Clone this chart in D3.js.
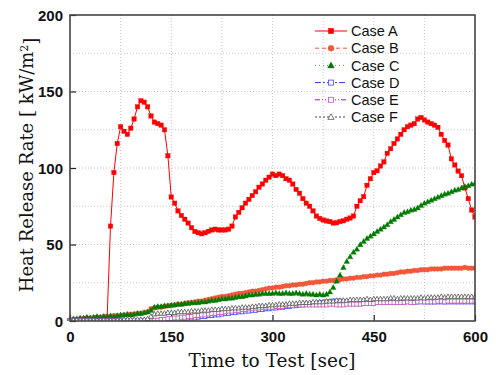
<!DOCTYPE html>
<html>
<head>
<meta charset="utf-8">
<script src="https://cdn.jsdelivr.net/npm/d3@7"></script>
<style>
  body { margin: 0; background: #fff; }
  svg { display: block; }
</style>
</head>
<body>
<div id="chart"></div>
<script>
// time axis, one sample every 5 sec (0..600)
const timeStep = 5;
const xTicks = [0, 150, 300, 450, 600];
const yTicks = [0, 50, 100, 150, 200];
const caseNames = ["Case A", "Case B", "Case C", "Case D", "Case E", "Case F"];

const caseA = [0,0.5,1,1,1,1.5,1.5,1.5,2,2,2,2,
  62,97,116,127,124,122,126,132,140,144,143,140,
  134,130,129,128,125,108,81,77,72,69,66.5,64,
  61,58.5,57.7,57,57.7,58.6,59.5,60,59.5,59.5,59.5,60,
  62,68,71,74,77,79.5,82,84.5,87.4,89.5,92,94,
  96,95,96,95,93,92,89.5,86,83.5,80,77,75,
  72,68.6,67,66,65.4,65,64,64.2,65,65.5,66.5,67.3,
  68.6,75,78.6,81.3,88.7,93,97,98.2,101.3,104,109.6,112.6,
  116,119,122,125,127,128,129,132,133,131.4,130,129,
  128,126.6,122,118,115,106,102,98,95,87,80,72.5,
  68];
const caseB = [0.5,1,1,1.5,1.5,2,2,2,2.5,2.5,3,3,
  3,3.5,3.5,3.5,4,4,4.5,4.5,5,5,5.5,6,
  8,8.5,9,9,9.5,10,10,10.5,11,11,11.5,12,
  12,12.5,13,13,13.5,14,14.5,15,15.5,16,16,16.5,
  17,17.5,18,18,18.5,19,19.5,19.5,20,20.5,21,21.5,
  21.5,22,22,22.5,23,23,23.5,23.5,24,24,24.5,25,
  25,25.5,25.5,26,26,26.5,26.5,27,27,27.5,27.5,28,
  28,28.5,28.5,29,29,29.5,29.5,30,30,30.5,30.5,31,
  31,31.5,32,32,32.5,32.5,33,33,33.5,33.5,33.5,34,
  34,34,34,34.5,34.5,34.5,34.5,34.5,34.5,35,34.5,34.5,
  34.5];
const caseC = [1,1.5,1.5,2,2,2.5,2,2.5,3,2.5,3,3,
  3.5,3,3.5,4,4,4.5,4,4.5,5,5,5.5,6,
  7,9,9.5,9.5,10,10,10.5,10.5,11,11,11.5,11.5,
  12,12,12,12.5,12.5,13,13.5,13.5,14,14.5,14.5,15,
  15,15.5,16,16,16.5,17,17,17.5,17.5,18,18,18,
  18,18.5,18,18,18.5,18,18,18.5,18,17.5,18,17.5,
  17.5,17,17.5,17,17.5,19,22,26,30,35,39,42,
  45,47,50,52,54,55.5,57,58.5,60,61.5,63,65,
  66.5,68,69.5,71,71.5,72.5,73,74,75.5,77,78,79,
  80,81,82,83,83.5,84.5,85.5,86,87,88,88.5,89.5,
  90];
const caseD = [0,0,0,0,0,0,0,0,0,0,0,0,
  0,0,0,0,0,0,0,0,0,0,0,0,
  0,0,0,0.5,0.5,0.5,1,1,1,1.5,1.5,2,
  2,2,2.5,3,3,3.5,3.5,4,4,4.5,5,5,
  5.5,5.5,6,6,6.5,6.5,7,7,7.5,7.5,8,8,
  8.5,8.5,9,9,9.5,9.5,10,10,10.5,10.5,11,11,
  11.5,11.5,12,12,12.5,12.5,13,13,13,12.5,12.5,12.5,
  12.5,12.5,12.5,13,12.5,12.5,12.5,13,13,13,12.5,13,
  13,13,12.5,13,13,13,12.5,12.5,13,12.5,12.5,12.5,
  12.5,12.5,12.5,12.5,12.5,12.5,12.5,12.5,12.5,12.5,12.5,12.5,
  12.5];
const caseE = [0,0,0,0,0,0,0,0,0,0,0,0,
  0,0,0,0,0,0,0,0,0,0,0,0,
  0,0.5,0.5,1,1,1.5,1.5,2,2,2.5,2.5,3,
  3,3.5,3.5,4,4,4.5,5,5,5.5,5.5,6,6.5,
  6.5,7,7,7.5,7.5,8,8,8.5,8.5,9,9,9,
  9,9.5,9.5,9.5,10,10,10,10.5,10.5,10.5,10.5,10.5,
  10.5,10.5,10.5,10.5,10.5,11,11,10.5,10.5,10.5,11,11,
  11,11,11,11.5,11.5,11.5,11.5,12,12,12,12,12,
  12,12,12,12,12.5,12,12,12.5,12.5,12.5,12.5,12.5,
  12.5,13,13,12.5,13,13,13,13,13,13,13,13,
  13];
const caseF = [0.5,0.5,0.5,0.5,0.5,0.5,0.5,0.5,0.5,0.5,0.5,0.5,
  0.5,0.5,0.5,0.5,1,1,1,1,1,1,1,1.5,
  3,4.5,5,5,5,5.5,5.5,5.5,6,6,6,6,
  6.5,6.5,6.5,7,7,7,7.5,7.5,7.5,8,8,8,
  8.5,8.5,8.5,9,9,9,9.5,9.5,10,10,10,10.5,
  10.5,10.5,11,11,11,11.5,11.5,11.5,12,12,12,12,
  12.5,12.5,12.5,12.5,13,13,13,13.5,13.5,13.5,13.5,14,
  14,14,14,14,14.5,14,14.5,14.5,14.5,14.5,14.5,15,
  15,14.5,15,15,15,15,15,15,15.5,15,15.5,15.5,
  15.5,15.5,16,15.5,16,16,16,16,16,16,16,16,
  16];

const allCases = [caseA, caseB, caseC, caseD, caseE, caseF];

// look of each series (matches the legend of the original plot)
const styles = [
  { line: "#ff0000", dash: null,          marker: "square",   fill: "#ff0000", stroke: "#ff0000" },
  { line: "#f0583a", dash: "4,3",         marker: "circle",   fill: "#f0583a", stroke: "#f0583a" },
  { line: "#33bb33", dash: "1,3",         marker: "triangle", fill: "#007a00", stroke: "#007a00" },
  { line: "#3333ff", dash: "6,2,2,2",     marker: "square",   fill: "#fff",    stroke: "#4444ff" },
  { line: "#9922aa", dash: "5,2,1,2,1,2", marker: "square",   fill: "#fff",    stroke: "#bb55bb" },
  { line: "#444444", dash: "2,2",         marker: "triangle", fill: "#fff",    stroke: "#555555" }
];

const width = 496, height = 375;
const margin = { top: 15, right: 21, bottom: 54, left: 70 };
const plotW = width - margin.left - margin.right;
const plotH = height - margin.top - margin.bottom;

const svg = d3.select("#chart").append("svg")
  .attr("width", width)
  .attr("height", height);

const g = svg.append("g").attr("transform", `translate(${margin.left},${margin.top})`);

const x = d3.scaleLinear().domain([0, 600]).range([0, plotW]);
const y = d3.scaleLinear().domain([0, 200]).range([plotH, 0]);

// dotted grid every 75 sec / 25 units
const gridX = d3.range(75, 600, 75);
const gridY = d3.range(25, 200, 25);
g.append("g").selectAll("line").data(gridX).join("line")
  .attr("x1", d => x(d)).attr("x2", d => x(d))
  .attr("y1", 0).attr("y2", plotH)
  .attr("stroke", "#c8c8c8").attr("stroke-dasharray", "1,2");
g.append("g").selectAll("line").data(gridY).join("line")
  .attr("y1", d => y(d)).attr("y2", d => y(d))
  .attr("x1", 0).attr("x2", plotW)
  .attr("stroke", "#c8c8c8").attr("stroke-dasharray", "1,2");

// axes: inward ticks, bold labels
const xAxis = g.append("g")
  .attr("transform", `translate(0,${plotH})`)
  .call(d3.axisBottom(x).tickValues(xTicks).tickSizeInner(-6).tickSizeOuter(0).tickPadding(10));
const yAxis = g.append("g")
  .call(d3.axisLeft(y).tickValues(yTicks).tickSizeInner(-6).tickSizeOuter(0).tickPadding(7));

[xAxis, yAxis].forEach(ax => {
  ax.select(".domain").remove();
  ax.selectAll(".tick line").attr("stroke", "#222").attr("stroke-width", 1.2);
  ax.selectAll(".tick text")
    .style("font-family", "Arial, 'Liberation Sans', sans-serif")
    .style("font-size", "15px")
    .style("font-weight", "bold")
    .attr("fill", "#111");
});
yAxis.selectAll(".tick text").attr("dy", "0.36em");

// symbols
function drawMarker(sel, type, size) {
  if (type === "circle") {
    sel.append("circle").attr("r", size * 0.55);
  } else if (type === "square") {
    sel.append("rect").attr("x", -size / 2).attr("y", -size / 2).attr("width", size).attr("height", size);
  } else {
    const h = size * 1.05;
    sel.append("path").attr("d", `M0,${-h * 0.62}L${h * 0.6},${h * 0.45}L${-h * 0.6},${h * 0.45}Z`);
  }
}

const line = d3.line()
  .x((d, i) => x(i * timeStep))
  .y(d => y(d));

svg.append("defs").append("clipPath").attr("id", "plotClip")
  .append("rect").attr("x", -3).attr("y", -3).attr("width", plotW + 3).attr("height", plotH + 3);

const series = g.append("g").attr("clip-path", "url(#plotClip)");

allCases.forEach((vals, k) => {
  const st = styles[k];
  const sg = series.append("g");
  sg.append("path")
    .datum(vals)
    .attr("d", line)
    .attr("fill", "none")
    .attr("stroke", st.line)
    .attr("stroke-width", k === 1 ? 1.6 : 1)
    .attr("stroke-dasharray", st.dash);
  const mk = sg.selectAll("g.mk").data(vals).join("g")
    .attr("class", "mk")
    .attr("transform", (d, i) => `translate(${x(i * timeStep)},${y(d)})`);
  const size = st.fill === "#fff" ? 4 : 4.5;
  mk.each(function () { drawMarker(d3.select(this), st.marker, size); });
  mk.selectAll("*")
    .attr("fill", st.fill)
    .attr("stroke", st.stroke)
    .attr("stroke-width", st.fill === "#fff" ? 0.8 : 0.3);
});

// frame
g.append("rect")
  .attr("width", plotW).attr("height", plotH)
  .attr("fill", "none")
  .attr("stroke", "#444").attr("stroke-width", 1.6);

// legend
const legend = g.append("g").attr("transform", `translate(${315 - margin.left},${31 - margin.top})`);
caseNames.forEach((name, k) => {
  const st = styles[k];
  const row = legend.append("g").attr("transform", `translate(0,${k * 17.2})`);
  row.append("line")
    .attr("x1", 0).attr("x2", 32).attr("y1", 0).attr("y2", 0)
    .attr("stroke", st.line).attr("stroke-width", 1)
    .attr("stroke-dasharray", st.dash);
  const m = row.append("g").attr("transform", "translate(16,0)");
  drawMarker(m, st.marker, st.fill === "#fff" ? 5 : 5.5);
  m.selectAll("*").attr("fill", st.fill).attr("stroke", st.stroke)
    .attr("stroke-width", st.fill === "#fff" ? 0.8 : 0.3);
  row.append("text")
    .attr("x", 36).attr("y", 0).attr("dy", "0.36em")
    .style("font-family", "Arial, 'Liberation Sans', sans-serif")
    .style("font-size", "14.5px")
    .attr("fill", "#111")
    .text(name);
});

// axis titles (serif, wide)
svg.append("text")
  .attr("x", 272)
  .attr("y", 367)
  .attr("text-anchor", "middle")
  .style("font-family", "'DejaVu Serif', serif")
  .style("font-size", "18.5px")
  .attr("fill", "#111")
  .text("Time to Test [sec]");

const yt = svg.append("text")
  .attr("transform", `translate(33,165) rotate(-90)`)
  .attr("text-anchor", "middle")
  .style("font-family", "'DejaVu Serif', serif")
  .style("font-size", "18px")
  .attr("fill", "#111");
yt.append("tspan").text("Heat Release Rate [ kW/m");
yt.append("tspan").attr("dy", "-0.5em").style("font-size", "11px").text("2");
yt.append("tspan").attr("dy", "0.5em").text("]");
</script>
</body>
</html>
